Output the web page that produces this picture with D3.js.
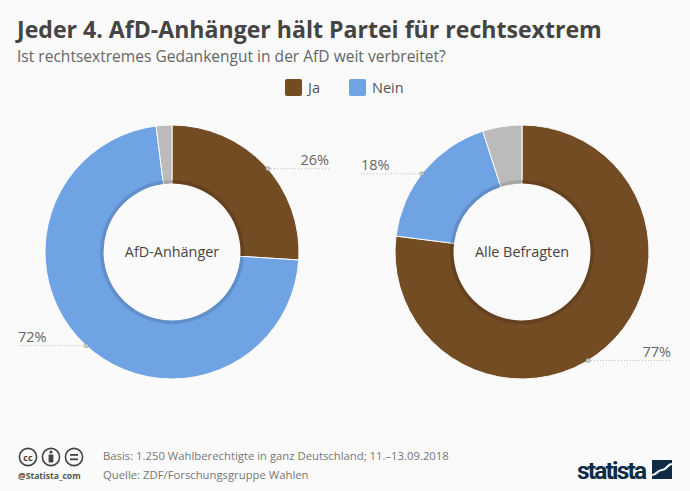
<!DOCTYPE html>
<html lang="de">
<head>
<meta charset="utf-8">
<script src="https://cdn.jsdelivr.net/npm/d3@7"></script>
<style>
  html, body { margin: 0; padding: 0; background: #fafafa; }
  svg { display: block; font-family: "Open Sans", sans-serif; }
</style>
</head>
<body>
<svg id="chart" width="690" height="491"></svg>
<script>
const titleText = "Jeder 4. AfD-Anhänger hält Partei für rechtsextrem";
const subtitleText = "Ist rechtsextremes Gedankengut in der AfD weit verbreitet?";
const categories = ["Ja", "Nein", "Keine Angabe"];
const groups = ["AfD-Anhänger", "Alle Befragten"];
const afdValues = [26, 72, 2];
const allValues = [77, 18, 5];
const legendLabels = ["Ja", "Nein"];
const sourceLines = [
  "Basis: 1.250 Wahlberechtigte in ganz Deutschland; 11.–13.09.2018",
  "Quelle: ZDF/Forschungsgruppe Wahlen"
];

const colors = d3.scaleOrdinal().domain(categories).range(["#744c24", "#70a3e3", "#bbbbbb"]);
const darker = d3.scaleOrdinal().domain(categories).range(["#654120", "#608fca", "#a5a5a5"]);

const svg = d3.select("#chart");

svg.append("text").attr("x", 17).attr("y", 38)
  .attr("font-size", 23.1).attr("font-weight", 700).attr("fill", "#444")
  .text(titleText);
svg.append("text").attr("x", 17).attr("y", 62)
  .attr("font-size", 15.55).attr("fill", "#666")
  .text(subtitleText);

// legend
const legendX = d3.scaleOrdinal().domain(legendLabels).range([285, 349]);
const legend = svg.selectAll(".legend").data(legendLabels).join("g")
  .attr("class", "legend")
  .attr("transform", d => `translate(${legendX(d)},79)`);
legend.append("rect")
  .attr("width", 17).attr("height", 17).attr("rx", 2)
  .attr("fill", d => colors(d));
legend.append("text")
  .attr("x", 23).attr("y", 14)
  .attr("font-size", 14.5).attr("fill", "#555")
  .text(d => d);

const outerR = 127;
const innerR = 68.5;
const pie = d3.pie().sort(null).value(d => d.value);
const arc = d3.arc().innerRadius(innerR).outerRadius(outerR);
const shadowArc = d3.arc().innerRadius(innerR).outerRadius(innerR + 3.5).padAngle(0.012).padRadius(innerR);

function drawDonut(cx, name, values) {
  const g = svg.append("g").attr("transform", `translate(${cx},252)`);
  const slices = pie(categories.map((c, i) => ({ key: c, value: values[i] })));

  g.selectAll(".slice").data(slices).join("path")
    .attr("class", "slice")
    .attr("d", arc)
    .attr("fill", d => colors(d.data.key))
    .attr("stroke", "#fafafa").attr("stroke-width", 1);
  g.selectAll(".shadow").data(slices).join("path")
    .attr("class", "shadow")
    .attr("d", shadowArc)
    .attr("fill", d => darker(d.data.key));

  g.append("text")
    .attr("text-anchor", "middle").attr("y", 5)
    .attr("font-size", 14.4).attr("fill", "#444")
    .text(name);
  return g;
}

function drawLabel(cx, value, deg, lineEndX, side) {
  const a = deg * Math.PI / 180;
  const px = cx + outerR * Math.sin(a);
  const py = 252 - outerR * Math.cos(a);
  svg.append("line")
    .attr("x1", px).attr("y1", py).attr("x2", lineEndX).attr("y2", py)
    .attr("stroke", "#bbb").attr("stroke-width", 1).attr("stroke-dasharray", "1 2");
  svg.append("circle")
    .attr("cx", px).attr("cy", py).attr("r", 2)
    .attr("fill", "#ccc").attr("stroke", "#888").attr("stroke-width", 0.6);
  svg.append("text")
    .attr("x", side === "end" ? lineEndX - 1 : lineEndX).attr("y", py - 4)
    .attr("text-anchor", side)
    .attr("font-size", 14.5).attr("fill", "#666")
    .text(value + "%");
}

drawDonut(172, groups[0], afdValues);
drawDonut(522, groups[1], allValues);

drawLabel(172, afdValues[0], 49, 330, "end");
drawLabel(172, afdValues[1], 222.5, 18, "start");
drawLabel(522, allValues[0], 148.7, 672, "end");
drawLabel(522, allValues[1], 308, 361, "start");

// footer
svg.selectAll(".source").data(sourceLines).join("text")
  .attr("class", "source")
  .attr("x", 103).attr("y", (d, i) => 460 + i * 19)
  .attr("font-size", 11.3).attr("fill", "#777")
  .text(d => d);

// cc badges
const badge = svg.append("g").attr("fill", "none").attr("stroke", "#444").attr("stroke-width", 1.6);
[28, 51, 74].forEach(x => badge.append("circle").attr("cx", x).attr("cy", 457).attr("r", 8.6));
svg.append("text").attr("x", 28).attr("y", 460.5).attr("text-anchor", "middle")
  .attr("font-size", 9).attr("font-weight", 700).attr("fill", "#444").text("cc");
svg.append("circle").attr("cx", 51).attr("cy", 452).attr("r", 1.6).attr("fill", "#444");
svg.append("rect").attr("x", 48.6).attr("y", 454.5).attr("width", 4.8).attr("height", 8).attr("rx", 1).attr("fill", "#444");
svg.append("rect").attr("x", 70).attr("y", 454).attr("width", 8).attr("height", 1.8).attr("fill", "#444");
svg.append("rect").attr("x", 70).attr("y", 458.4).attr("width", 8).attr("height", 1.8).attr("fill", "#444");
svg.append("text").attr("x", 18).attr("y", 479)
  .attr("font-size", 8.6).attr("font-weight", 700).attr("fill", "#555")
  .text("@Statista_com");

// logo
svg.append("text").attr("x", 577).attr("y", 479)
  .attr("font-size", 24.5).attr("font-weight", 700).attr("fill", "#0f2b46")
  .attr("font-family", "Roboto, sans-serif").attr("textLength", 70)
  .text("statista");
svg.append("rect").attr("x", 652).attr("y", 460).attr("width", 20).attr("height", 19).attr("fill", "#0f2b46");
svg.append("path")
  .attr("d", d3.line().curve(d3.curveBumpX)([[652, 475], [662, 470], [672, 464]]))
  .attr("fill", "none").attr("stroke", "#fafafa").attr("stroke-width", 2.2);
</script>
</body>
</html>
